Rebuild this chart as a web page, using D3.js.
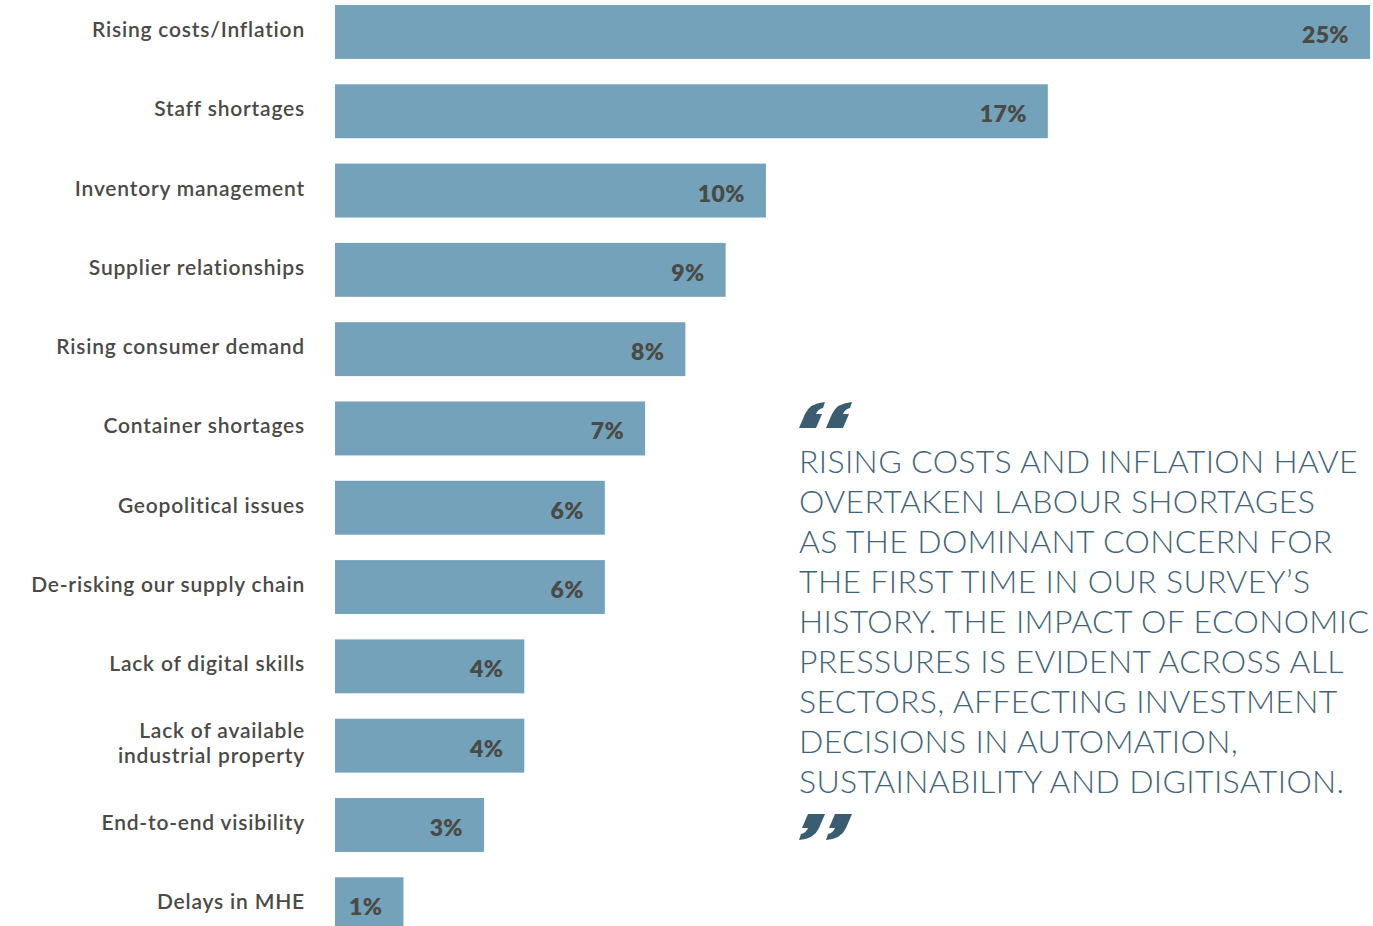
<!DOCTYPE html>
<html>
<head>
<meta charset="utf-8">
<script src="https://cdn.jsdelivr.net/npm/d3@7"></script>
<style>
  html, body { margin: 0; padding: 0; background: #ffffff; }
  svg { display: block; }
</style>
</head>
<body>
<svg id="chart" width="1373" height="926"></svg>
<script>
// Survey: biggest challenges reported (share of respondents)
const categories = [
  ["Rising costs/Inflation"],
  ["Staff shortages"],
  ["Inventory management"],
  ["Supplier relationships"],
  ["Rising consumer demand"],
  ["Container shortages"],
  ["Geopolitical issues"],
  ["De-risking our supply chain"],
  ["Lack of digital skills"],
  ["Lack of available", "industrial property"],
  ["End-to-end visibility"],
  ["Delays in MHE"]
];
const values = [25, 17, 10, 9, 8, 7, 6, 6, 4, 4, 3, 1];

const quoteLines = [
  "RISING COSTS AND INFLATION HAVE",
  "OVERTAKEN LABOUR SHORTAGES",
  "AS THE DOMINANT CONCERN FOR",
  "THE FIRST TIME IN OUR SURVEY\u2019S",
  "HISTORY. THE IMPACT OF ECONOMIC",
  "PRESSURES IS EVIDENT ACROSS ALL",
  "SECTORS, AFFECTING INVESTMENT",
  "DECISIONS IN AUTOMATION,",
  "SUSTAINABILITY AND DIGITISATION."
];

const svg = d3.select("#chart");
const barColor = "#74a2ba";
const labelColor = "#4a4a46";
const quoteColor = "#3f6479";
const markColor = "#3a5d72";

const keys = categories.map(c => c.join(" "));

// value axis: bars grow from the left edge of the plot area
const x = d3.scaleLinear().domain([-0.7, 25]).range([335, 1370]);
const x0 = x.range()[0];

const step = 79.3;
const y = d3.scaleBand()
  .domain(keys)
  .range([5, 5 + step * (keys.length - 0.32)])
  .paddingInner(0.32)
  .paddingOuter(0)
  .align(0);

// bars
svg.append("g").selectAll("rect")
  .data(values)
  .join("rect")
  .attr("x", x0)
  .attr("y", (d, i) => y(keys[i]))
  .attr("width", d => x(d) - x0)
  .attr("height", y.bandwidth())
  .attr("fill", barColor);

// value labels inside bar ends
svg.append("g").selectAll("text")
  .data(values)
  .join("text")
  .attr("x", d => x(d) - 21)
  .attr("y", (d, i) => y(keys[i]) + y.bandwidth() / 2 + 11)
  .attr("text-anchor", "end")
  .attr("font-family", "Lato, 'Open Sans', sans-serif")
  .attr("font-weight", 800)
  .attr("font-size", 23)
  .attr("letter-spacing", 0.4)
  .attr("fill", labelColor)
  .text(d => d + "%");

// category labels
const cat = svg.append("g").selectAll("text")
  .data(categories)
  .join("text")
  .attr("text-anchor", "end")
  .attr("font-family", "Lato, 'Open Sans', sans-serif")
  .attr("font-weight", 600)
  .attr("font-size", 21)
  .attr("letter-spacing", 0.8)
  .attr("fill", labelColor)
  .attr("transform", (d, i) => `translate(305, ${y(keys[i]) + y.bandwidth() / 2 + 5})`);

cat.selectAll("tspan")
  .data(d => d.map((t, j) => ({ t, j, n: d.length })))
  .join("tspan")
  .attr("x", 0)
  .attr("y", d => (d.j - (d.n - 1) / 2) * 25)
  .text(d => d.t);

// pull quote
const quote = svg.append("g").attr("transform", "translate(799, 0)");

quote.append("g").selectAll("text")
  .data(quoteLines)
  .join("text")
  .attr("x", 0)
  .attr("y", (d, i) => 473 + i * 40)
  .attr("font-family", "Lato, 'Open Sans', sans-serif")
  .attr("font-weight", 300)
  .attr("font-size", 32)
  .attr("letter-spacing", 0.35)
  .attr("fill", quoteColor)
  .text(d => d);

// one comma-shaped quotation stroke, about 25 x 26, drawn as an opening mark
function markPath(ox, oy) {
  return `M${ox + 0},${oy + 26}
          L${ox + 6},${oy + 12}
          Q${ox + 11},${oy + 1} ${ox + 26},${oy + 0}
          L${ox + 24},${oy + 6}
          Q${ox + 19},${oy + 7} ${ox + 17},${oy + 12}
          L${ox + 23},${oy + 12}
          L${ox + 17},${oy + 26} Z`;
}

// opening quote
quote.append("g")
  .selectAll("path")
  .data([0, 27])
  .join("path")
  .attr("d", d => markPath(d, 402))
  .attr("fill", markColor);

// closing quote (opening mark rotated half a turn)
quote.append("g")
  .attr("transform", "rotate(180, 26.5, 826)")
  .selectAll("path")
  .data([0, 27])
  .join("path")
  .attr("d", d => markPath(d, 812))
  .attr("fill", markColor);
</script>
</body>
</html>
